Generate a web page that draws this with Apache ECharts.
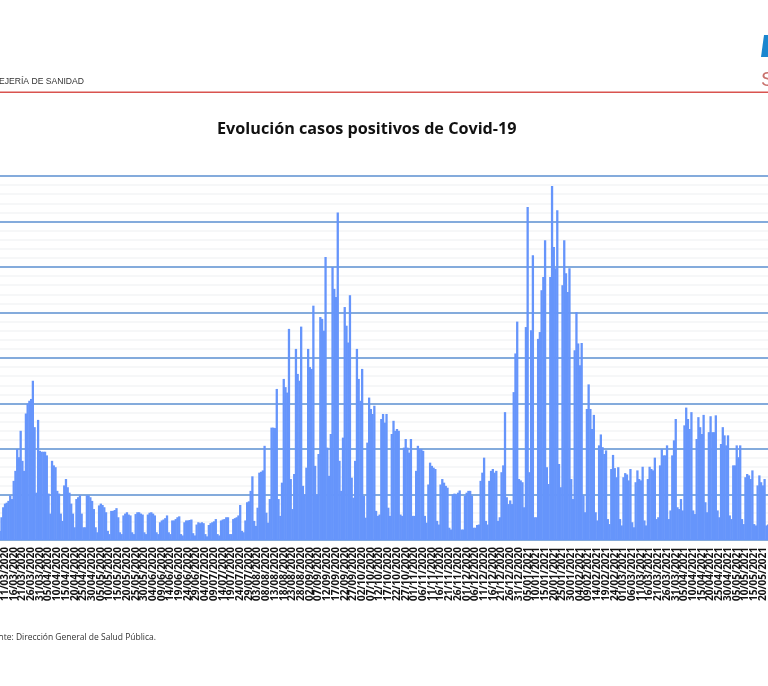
<!DOCTYPE html>
<html><head><meta charset="utf-8">
<style>html,body{margin:0;padding:0;background:#fff}#c{width:768px;height:686px}</style>
<script src="https://cdn.jsdelivr.net/npm/echarts@6/dist/echarts.min.js"></script>
</head><body><div id="c"></div>
<script>
var firstDay = Date.UTC(2020, 2, 8); // 08/03/2020, a Sunday
// Daily positive cases, one row per week (Sun..Sat)
var wave1 = [
100,250,360,400,410,430,490,
450,650,760,1000,910,1200,870,
760,1390,1500,1530,1550,1750,1240,
520,1320,980,970,970,970,930,
510,290,870,820,800,540,510,
290,210,600,670,580,520,400,
290,140,450,470,490,290,140,
140,490,490,470,430,340,140,
85,380,400,385,360,305,100,
65,320,320,330,350,250,85,
65,270,290,305,280,270,85,
65,285,305,305,290,280,85,
65,280,300,305,290,270,85,
65,195,215,225,240,270,85,
65,215,215,230,250,260,65,
50,195,215,215,220,225,75,
50,170,195,185,195,185,65,
40,165,185,195,205,230,65,
50,215,225,230,250,250,65,
65,230,240,250,270,385,100,
85,215,415,425,540,700,210];
var wave2 = [
155,355,740,750,765,1035,300,
190,450,1235,1235,1230,1660,450,
265,630,1770,1680,1620,2320,670,
340,725,2100,1825,1750,2345,595,
500,795,2100,1900,1880,2575,815,
500,945,2450,2430,2300,3110,1015,
705,1165,3000,2760,2670,3600,870,
540,1125,2560,2355,2170,2690,685,
465,870,2100,1770,1530,1880,485,
245,1070,1565,1440,1385,1475,320,
265,280,1330,1385,1290,1385,355,
265,1165,1310,1200,1220,1200,280,
265,1015,1110,1015,960,1110,265,
265,760,1035,1000,1000,980,265,
190,610,850,815,795,780,210,
170,610,670,630,595,575,135,
115,500,510,500,520,545,115,
115,485,520,540,540,485,135,
135,165,170,650,740,905,210,
170,650,760,780,740,760,210];
var wave3 = [
250,745,820,1405,470,395,435,
395,1625,2050,2400,670,655,635,
360,2340,3660,745,2305,3130,250,
250,2210,2285,2745,2890,3295,800,
615,2890,3890,3220,2985,3625,835,
580,2800,3295,2930,2725,2985,670,
450,2085,2505,2160,1920,2165,490,
305,1440,1710,1440,1220,1375,305,
215,1040,1160,1020,945,985,230,
175,780,935,790,690,800,230,
160,690,735,720,655,780,195,
140,635,765,670,655,805,215,
160,670,805,780,765,905,230,
250,820,1000,930,930,1040,230,
325,930,1095,1330,360,340,450,
325,1260,1455,1330,1220,1405,325,
285,1110,1350,1240,1165,1375,415,
305,1185,1360,1185,1185,1370,325,
250,1055,1240,1150,1040,1150,270,
230,820,820,1040,910,1040,230,
175,690,725,710,670,765,175,
160,600,710,635,600,670,160,
170,650];
var values = wave1.concat(wave2, wave3);
function pad(n){return (n<10?'0':'')+n;}
var categories = values.map(function(_, i){
  var d = new Date(firstDay + i*86400000);
  return pad(d.getUTCDate())+'/'+pad(d.getUTCMonth()+1)+'/'+d.getUTCFullYear();
});
var chart = echarts.init(document.getElementById('c'), null, {renderer:'canvas'});
var sans = '"Open Sans", sans-serif';
chart.setOption({
  animation:false,
  backgroundColor:'#fff',
  grid:{left:-1.1, right:-2.7, top:176, bottom:146, containLabel:false, outerBoundsMode:'none'},
  xAxis:{type:'category', data:categories, boundaryGap:true,
    axisLine:{show:false}, axisTick:{show:false}, splitLine:{show:false},
    axisLabel:{rotate:90, margin:7, fontSize:10, fontWeight:'bold', color:'#111', fontFamily:sans,
      hideOverlap:false,
      interval:function(i){return i===0 || i===values.length-1 || (i-3)%5===0;},
      formatter:function(v,i){return (i-3)%5===0 ? v : '';}}},
  yAxis:{type:'value', min:0, max:4000, interval:500, axisLabel:{show:false}, axisLine:{show:false}, axisTick:{show:false},
    splitLine:{show:true, lineStyle:{color:'#5b8fd0', width:1.5}},
    minorTick:{show:false, splitNumber:5},
    minorSplitLine:{show:true, lineStyle:{color:'#f4f5f6', width:1.5}}},
  series:[{type:'bar', data:values, barWidth:2.3, itemStyle:{color:'#6695fb'}, silent:true}],
  graphic:[
    {type:'text', left:217, top:121, style:{text:'Evolución casos positivos de Covid-19', font:'bold 16.2px '+sans, fill:'#111'}},
    {type:'text', style:{x:84, y:77, align:'right', text:'CONSEJERÍA DE SANIDAD', font:'8.6px "Liberation Sans", Arial', fill:'#333'}},
    {type:'rect', shape:{x:0,y:91.5,width:768,height:1.4}, style:{fill:'#d9534f'}},
    {type:'polygon', shape:{points:[[764,35],[768,35],[768,57],[761,57]]}, style:{fill:'#1a86cf'}},
    {type:'text', style:{x:761, y:70, text:'Salud', font:'20px "Liberation Sans", Arial', fill:'#c9716c'}},
    {type:'text', style:{x:156, y:633, align:'right', text:'Fuente: Dirección General de Salud Pública.', font:'8.5px '+sans, fill:'#333'}}
  ]
});
</script></body></html>
